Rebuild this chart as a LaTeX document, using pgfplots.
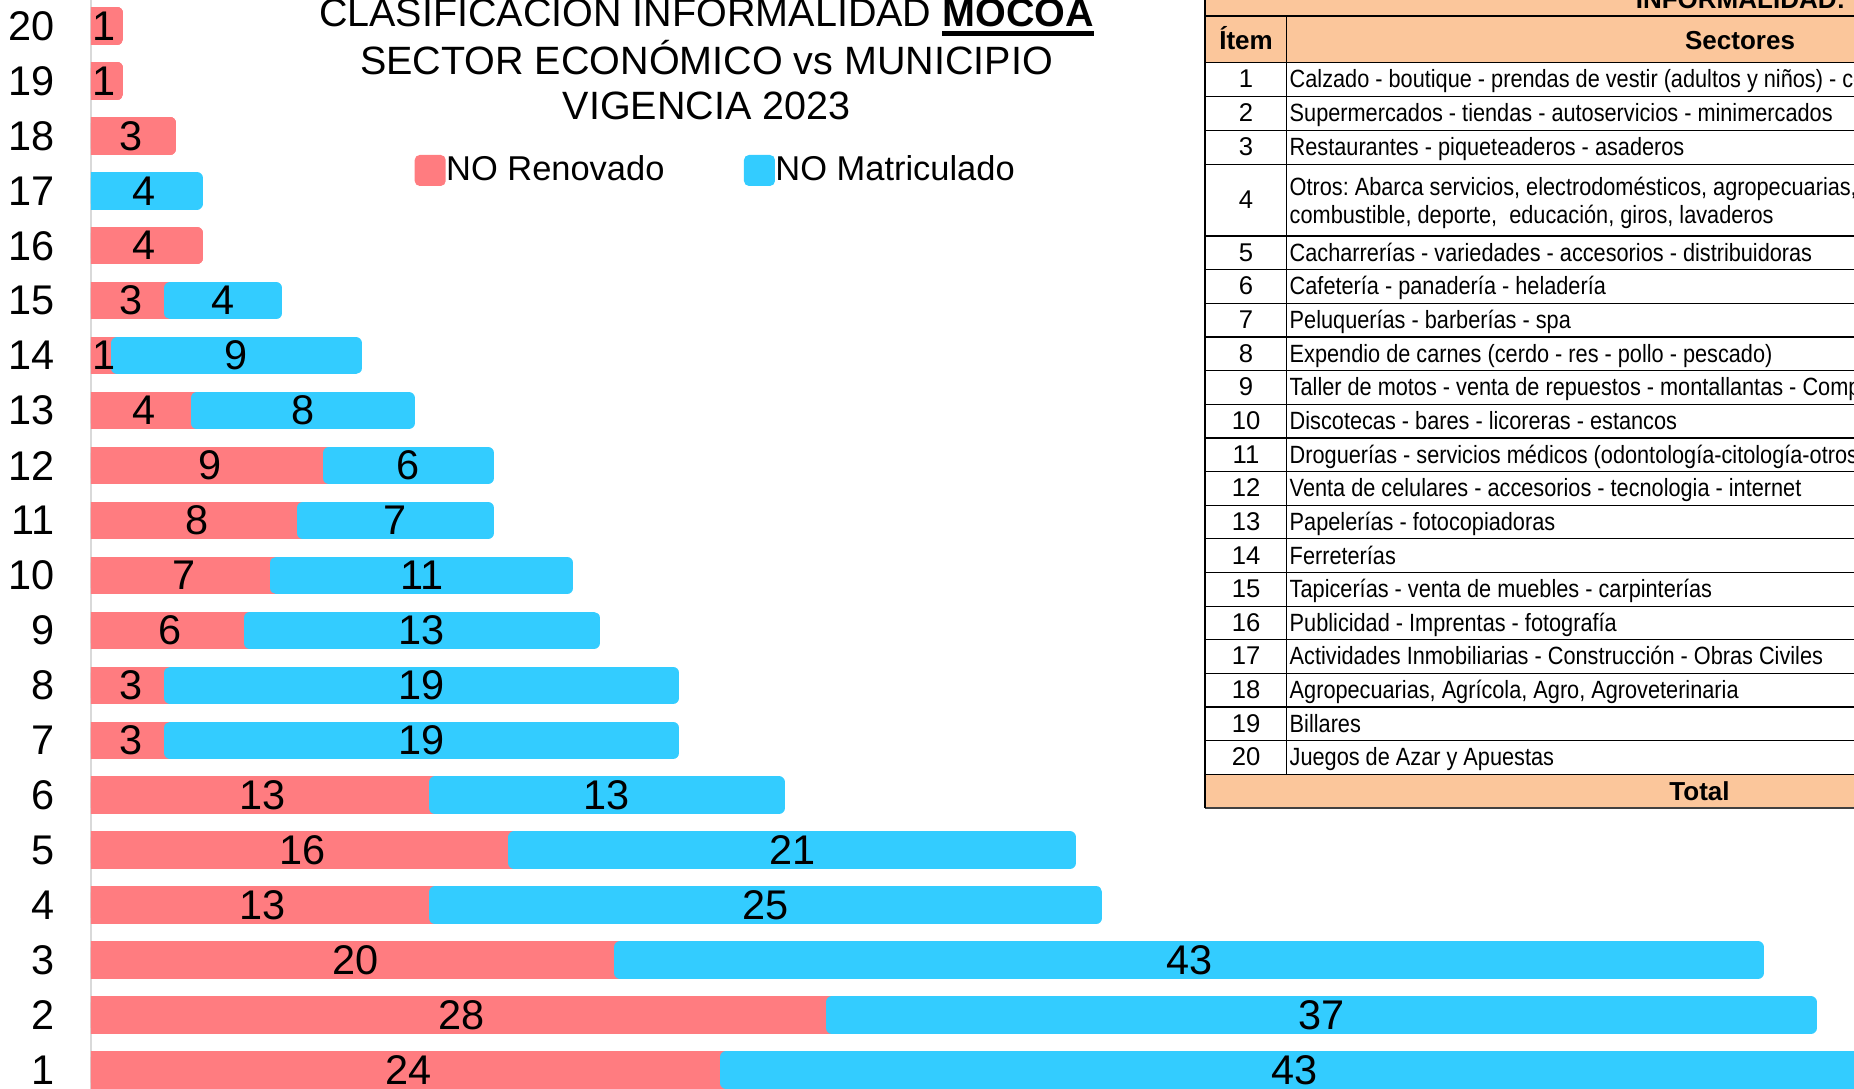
\documentclass[border=0pt]{standalone}
\usepackage{fontspec}
\setmainfont{Liberation Sans}
\newfontfamily\narrowfont[FakeStretch=0.87]{Liberation Sans}
\usepackage{pgfplots}
\usepackage{pgfplotstable}
\pgfplotsset{compat=1.18}
\frenchspacing

\definecolor{rojo}{RGB}{255,124,128}
\definecolor{azul}{RGB}{51,204,255}
\definecolor{durazno}{RGB}{251,198,155}
\definecolor{ejegris}{RGB}{217,217,217}

% item, NO Renovado, NO Matriculado
\pgfplotstableread{
item red blue
1 24 43
2 28 37
3 20 43
4 13 25
5 16 21
6 13 13
7 3 19
8 3 19
9 6 13
10 7 11
11 8 7
12 9 6
13 4 8
14 1 9
15 3 4
16 4 0
17 0 4
18 3 0
19 1 0
20 1 0
}\datos

\newcommand\titfont{\fontsize{11.24}{13}\selectfont}
\newcommand\numlab{\fontsize{11.8}{13}\selectfont}
\newcommand\celda{\fontsize{7.1}{8.5}\narrowfont}
\newcommand\numfont{\fontsize{7.3}{8.5}\selectfont}
\newcommand\cabeza{\fontsize{7.4}{9}\selectfont\bfseries}
% thick underline
\newcommand\subr[1]{\setbox0\hbox{#1}\rlap{\rule[-0.9mm]{\wd0}{0.45mm}}\box0}
% one row of the side table: item, baseline (px from top), text
\newcommand\fila[3]{%
  \node[anchor=base,inner sep=0pt] at (1246,#2) {\numfont #1};
  \node[anchor=base west,inner sep=0pt] at (1289,#2) {\celda #3};}

\pgfplotsset{
  marco/.style={
    at={(9.1mm,-1.77mm)}, anchor=south west,
    x=2.646mm, y=5.495mm,
    xmin=0, xmax=70, ymin=0.35, ymax=20.65,
    enlargelimits=false,
    bar width=2.55mm,
    /pgf/number format/assume math mode=true,
    nodes near coords={\pgfmathfloatifflags{\pgfplotspointmeta}{0}{}{\pgfmathprintnumber{\pgfplotspointmeta}}},
    every node near coord/.append style={font=\numlab,
      text=black, anchor=center, inner sep=0pt, xshift={-\segval*1.323mm}},
  },
  barra/.style={fill=#1, draw=#1, line width=1.2mm, line join=round,
    legend image code/.code={%
      \fill[##1, draw=none, rounded corners=0.5mm] (0mm,-1.55mm) rectangle (3.1mm,1.55mm);}},
}

\begin{document}
\begin{tikzpicture}
\useasboundingbox (0,0) rectangle (185.4mm,108.8mm);
\clip (0,0) rectangle (185.4mm,108.8mm);

\begin{axis}[marco,
  xbar stacked, reverse stacked plots=false,
  axis x line=none, axis y line*=left,
  y axis line style={draw=ejegris, line width=0.17mm},
  ytick={1,...,20}, major tick length=0pt,
  yticklabel style={font=\numlab, anchor=east, inner sep=0pt, xshift=-3.55mm},
  legend columns=2,
  legend style={at={(0.1744,0.8384)}, anchor=west, draw=none, fill=none,
    inner sep=0pt, font=\fontsize{9.8}{11}\selectfont, nodes={inner sep=0.05mm},
    /tikz/every even column/.append style={column sep=7.9mm}},
]
\addplot[barra=rojo, point meta=explicit,
  visualization depends on={\thisrow{red} \as \segval}]
  table[x=red, y=item, meta=red] {\datos};
\addlegendentry{NO Renovado}
\addplot[barra=azul, point meta=explicit,
  visualization depends on={\thisrow{blue} \as \segval}]
  table[x=blue, y=item, meta=blue] {\datos};
\addlegendentry{NO Matriculado}
\end{axis}

% red bars with no blue part drawn again on top, so their rounded end shows
\begin{axis}[marco, xbar, hide axis]
\addplot[barra=rojo, point meta=explicit,
  restrict expr to domain={\thisrow{blue}}{-0.5:0.5},
  visualization depends on={\thisrow{red} \as \segval}]
  table[x=red, y=item, meta=red] {\datos};
\end{axis}

\begin{scope}[x=0.1mm, y=-0.1mm, shift={(0,108.8mm)}]
  % title
  \node[anchor=base, inner sep=0pt, font=\titfont] at (706.5,27)
    {CLASIFICACION INFORMALIDAD \subr{\textbf{MOCOA}}};
  \node[anchor=base, inner sep=0pt, font=\titfont] at (706.5,74.5) {SECTOR ECONÓMICO vs MUNICIPIO};
  \node[anchor=base, inner sep=0pt, font=\titfont] at (706.5,119.4) {VIGENCIA 2023};

  % side table
  \fill[durazno] (1205,-20) rectangle (2300,62.3);
  \fill[durazno] (1205,774.3) rectangle (2300,807.5);
  \foreach \yy in {16,62.3,96.5,130.5,164.3,236,269.6,303.3,337,370.6,404.3,437.9,
      471.5,505.2,538.8,572.5,606.1,639.8,673.4,707,740.7,774.3}
    \draw[line width=0.12mm] (1205,\yy) -- (2300,\yy);
  \draw[line width=0.2mm, black!75] (1205,807.5) -- (2300,807.5);
  \draw[line width=0.17mm] (1205,-20) -- (1205,807.5);
  \draw[line width=0.12mm] (1286.5,16) -- (1286.5,774.3);

  \node[anchor=base, inner sep=0pt] at (1740.5,8.5) {\cabeza INFORMALIDAD:};
  \node[anchor=base, inner sep=0pt] at (1246,49.5) {\cabeza Ítem};
  \node[anchor=base, inner sep=0pt] at (1740,49.5) {\cabeza Sectores};
  \node[anchor=base, inner sep=0pt] at (1699.5,800) {\cabeza Total};

  \fila{1}{88}{Calzado - boutique - prendas de vestir (adultos y niños) - confecciones}
  \fila{2}{122}{Supermercados - tiendas - autoservicios - minimercados}
  \fila{3}{155.8}{Restaurantes - piqueteaderos - asaderos}
  \node[anchor=base,inner sep=0pt] at (1246,209) {\numfont 4};
  \node[anchor=base west,inner sep=0pt] at (1289,196) {\celda Otros: Abarca servicios, electrodomésticos, agropecuarias,};
  \node[anchor=base west,inner sep=0pt] at (1289,224) {\celda combustible, deporte,\ \ educación, giros, lavaderos};
  \fila{5}{261.1}{Cacharrerías - variedades - accesorios - distribuidoras}
  \fila{6}{294.8}{Cafetería - panadería - heladería}
  \fila{7}{328.5}{Peluquerías - barberías - spa}
  \fila{8}{362.1}{Expendio de carnes (cerdo - res - pollo - pescado)}
  \fila{9}{395.8}{Taller de motos - venta de repuestos - montallantas - Compraventa}
  \fila{10}{429.4}{Discotecas - bares - licoreras - estancos}
  \fila{11}{463}{Droguerías - servicios médicos (odontología-citología-otros)}
  \fila{12}{496.7}{Venta de celulares - accesorios - tecnologia - internet}
  \fila{13}{530.3}{Papelerías - fotocopiadoras}
  \fila{14}{564}{Ferreterías}
  \fila{15}{597.6}{Tapicerías - venta de muebles - carpinterías}
  \fila{16}{631.3}{Publicidad - Imprentas - fotografía}
  \fila{17}{664.9}{Actividades Inmobiliarias - Construcción - Obras Civiles}
  \fila{18}{698.5}{Agropecuarias, Agrícola, Agro, Agroveterinaria}
  \fila{19}{732.2}{Billares}
  \fila{20}{765.8}{Juegos de Azar y Apuestas}
\end{scope}
\end{tikzpicture}
\end{document}
